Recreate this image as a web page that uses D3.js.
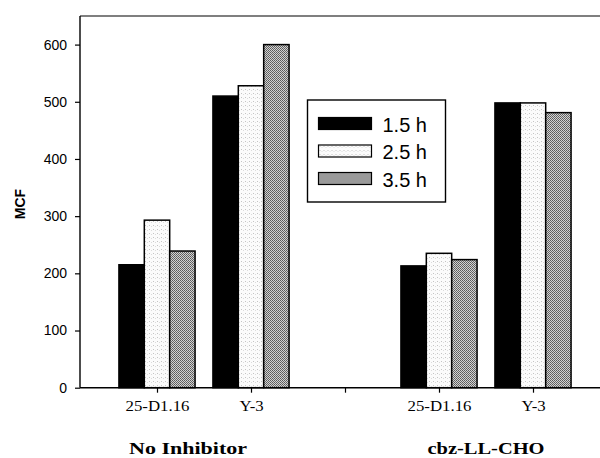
<html>
<head>
<meta charset="utf-8">
<script src="https://d3js.org/d3.v7.min.js"></script>
<style>
  body { margin: 0; background: #fff; }
  svg { display: block; }
</style>
</head>
<body>
<div id="chart"></div>

<script>
// values (MCF)
var cells = ["25-D1.16", "Y-3", "", "25-D1.16", "Y-3"];
var groups = ["No Inhibitor", "cbz-LL-CHO"];
var series = ["1.5 h", "2.5 h", "3.5 h"];
var h15 = [215, 510, null, 213, 498];
var h25 = [293, 528, null, 235, 498];
var h35 = [239, 600, null, 224, 481];
var yTicks = [0, 100, 200, 300, 400, 500, 600];

var values = [h15, h25, h35];
var fills = ["#000", "url(#dots)", "url(#stipple)"];

var width = 600, height = 458;

var svg = d3.select("#chart").append("svg")
  .attr("width", width)
  .attr("height", height);

// textures for the scanned look
var defs = svg.append("defs");
var dots = defs.append("pattern")
  .attr("id", "dots")
  .attr("patternUnits", "userSpaceOnUse")
  .attr("width", 4).attr("height", 4);
dots.append("rect").attr("width", 4).attr("height", 4).attr("fill", "#fbfbfb");
dots.append("rect").attr("x", 1).attr("y", 1).attr("width", 1).attr("height", 1).attr("fill", "#c4c4c4");
dots.append("rect").attr("x", 3).attr("y", 2).attr("width", 1).attr("height", 1).attr("fill", "#dcdcdc");

var stip = defs.append("pattern")
  .attr("id", "stipple")
  .attr("patternUnits", "userSpaceOnUse")
  .attr("width", 2).attr("height", 2);
stip.append("rect").attr("width", 2).attr("height", 2).attr("fill", "#d2d2d2");
stip.append("rect").attr("x", 0).attr("y", 0).attr("width", 1).attr("height", 1).attr("fill", "#5a5a5a");
stip.append("rect").attr("x", 1).attr("y", 1).attr("width", 1).attr("height", 1).attr("fill", "#6a6a6a");

// plot edges (right edge lies outside the picture)
var pLeft = 80, pTop = 16, pBottom = 387.7, pRight = 640;

var x = d3.scaleLinear().domain([1, 5]).range([157, 533]);
var y = d3.scaleLinear().domain([0, 650]).range([pBottom, pTop]);
var bw = (x(2) - x(1)) * 0.27;

// bars
values.forEach(function(vals, j) {
  svg.append("g").selectAll("rect")
    .data(vals.map(function(v, i) { return {i: i + 1, v: v}; }).filter(function(d) { return d.v != null; }))
    .enter().append("rect")
    .attr("x", function(d) { return x(d.i) + (j - 1.5) * bw; })
    .attr("y", function(d) { return y(d.v); })
    .attr("width", bw)
    .attr("height", function(d) { return y(0) - y(d.v); })
    .attr("fill", fills[j])
    .attr("stroke", "#000")
    .attr("stroke-width", 1.5);
});

// top frame line
svg.append("line")
  .attr("x1", pLeft).attr("x2", pRight)
  .attr("y1", pTop).attr("y2", pTop)
  .attr("stroke", "#000").attr("stroke-width", 1.2);

// y axis
var yAxis = d3.axisLeft(y).tickValues(yTicks).tickSize(5).tickPadding(8);
var yg = svg.append("g")
  .attr("transform", "translate(" + pLeft + ",0)")
  .call(yAxis);
yg.select(".domain").remove();
yg.append("line")
  .attr("x1", 0).attr("x2", 0)
  .attr("y1", pTop).attr("y2", pBottom)
  .attr("stroke", "#000").attr("stroke-width", 1.4);
yg.selectAll("text")
  .attr("font-family", "Liberation Sans, Arial, sans-serif")
  .attr("font-size", 14)
  .attr("fill", "#000");
yg.selectAll(".tick line").attr("stroke", "#000").attr("stroke-width", 1.2);

// x axis
var xAxis = d3.axisBottom(x).tickValues([1, 2, 3, 4, 5])
  .tickFormat(function(d) { return cells[d - 1]; })
  .tickSize(5).tickPadding(8);
var xg = svg.append("g")
  .attr("transform", "translate(0," + pBottom + ")")
  .call(xAxis);
xg.select(".domain").remove();
xg.append("line")
  .attr("x1", pLeft).attr("x2", pRight)
  .attr("y1", 0).attr("y2", 0)
  .attr("stroke", "#000").attr("stroke-width", 1.4);
xg.selectAll(".tick line").attr("stroke", "#000").attr("stroke-width", 1.2);
// the scanned labels are a bit wider than plain Times
xg.selectAll("text")
  .attr("font-family", "Liberation Serif, Times New Roman, serif")
  .attr("font-size", 15)
  .attr("fill", "#000")
  .attr("transform", "scale(1.12,1)");

// group labels
svg.selectAll(".grp")
  .data(groups)
  .enter().append("text")
  .attr("class", "grp")
  .attr("x", function(d, i) { return i == 0 ? 188 : (x(4) + x(5)) / 2; })
  .attr("y", 454)
  .attr("text-anchor", "middle")
  .attr("font-family", "Liberation Serif, Times New Roman, serif")
  .attr("font-weight", "bold")
  .attr("font-size", 17)
  .attr("textLength", function(d, i) { return i == 0 ? 118 : 117; })
  .attr("lengthAdjust", "spacingAndGlyphs")
  .text(function(d) { return d; });

// y label
svg.append("text")
  .attr("transform", "translate(25,204) rotate(-90)")
  .attr("text-anchor", "middle")
  .attr("font-family", "Liberation Sans, Arial, sans-serif")
  .attr("font-weight", "bold")
  .attr("font-size", 14)
  .text("MCF");

// legend
var lg = svg.append("g").attr("transform", "translate(307.5,100)");
lg.append("rect")
  .attr("width", 138).attr("height", 102)
  .attr("fill", "#fff").attr("stroke", "#000").attr("stroke-width", 1.4);
var items = lg.selectAll(".item")
  .data(series)
  .enter().append("g")
  .attr("transform", function(d, i) { return "translate(11," + (17.5 + i * 27.5) + ")"; });
items.append("rect")
  .attr("width", 53).attr("height", 12)
  .attr("fill", function(d, i) { return fills[i]; })
  .attr("stroke", "#000").attr("stroke-width", 1.2);
items.append("text")
  .attr("x", 64).attr("y", 14)
  .attr("font-family", "Liberation Sans, Arial, sans-serif")
  .attr("font-size", 20)
  .text(function(d) { return d; });
</script>
</body>
</html>
